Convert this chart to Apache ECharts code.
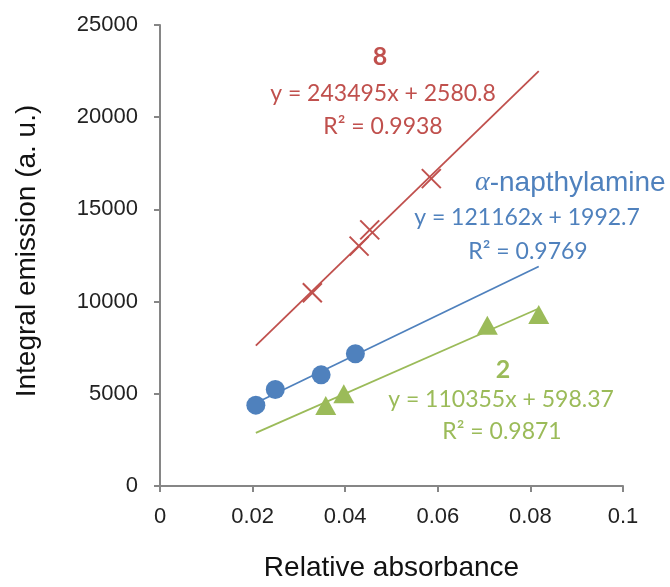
<!DOCTYPE html>
<html>
<head>
<meta charset="utf-8">
<script src="https://cdn.jsdelivr.net/npm/echarts@6/dist/echarts.min.js"></script>
<style>
  html, body { margin: 0; padding: 0; background: #fff; }
  #main { width: 670px; height: 587px; }
</style>
</head>
<body>
<div id="main"></div>
<script>
// points: [relative absorbance, integral emission]
var pts8 = [[0.0329, 10480], [0.0430, 13010], [0.0453, 13890], [0.0586, 16670]];
var ptsNaph = [[0.0207, 4385], [0.0249, 5233], [0.0348, 6028], [0.0422, 7174]];
var pts2 = [[0.0358, 4360], [0.0397, 5000], [0.0707, 8712], [0.0818, 9295]];

// trendline end points
var fit8 = [[0.0207, 7610], [0.0818, 22500]];
var fitNaph = [[0.0207, 4500], [0.0818, 11900]];
var fit2 = [[0.0207, 2880], [0.0818, 9625]];

var xTicks = [0, 0.02, 0.04, 0.06, 0.08, 0.1];
var yTicks = [0, 5000, 10000, 15000, 20000, 25000];

var red = '#C0504D', blue = '#4F81BD', green = '#9BBB59';
var axisGrey = '#868686';
var eqFont = 'Lato';

var myChart = echarts.init(document.getElementById('main'));

function eqText(x, y, txt, color, size, weight) {
    return {
        type: 'text', x: x, y: y, z: 10,
        style: {
            text: txt, fill: color, font: (weight || 'normal') + ' ' + size + 'px ' + eqFont,
            align: 'center', verticalAlign: 'middle'
        }
    };
}

option = {
    animation: false,
    backgroundColor: '#fff',
    grid: { left: 160, right: 47, top: 25, bottom: 90, containLabel: false },
    xAxis: {
        type: 'value',
        min: xTicks[0],
        max: xTicks[xTicks.length - 1],
        interval: 0.02,
        splitLine: { show: false },
        axisLine: { show: true, lineStyle: { color: axisGrey, width: 2 } },
        axisTick: { show: true, inside: false, length: 6, lineStyle: { color: axisGrey, width: 2 } },
        axisLabel: { color: '#222', fontSize: 22, fontFamily: 'Liberation Sans', margin: 20 },
        name: 'Relative absorbance',
        nameLocation: 'middle',
        nameGap: 68,
        nameTextStyle: { color: '#111', fontSize: 28, fontFamily: 'Liberation Sans' }
    },
    yAxis: {
        type: 'value',
        min: yTicks[0],
        max: yTicks[yTicks.length - 1],
        interval: 5000,
        splitLine: { show: false },
        axisLine: { show: true, lineStyle: { color: axisGrey, width: 2 } },
        axisTick: { show: true, inside: false, length: 6, lineStyle: { color: axisGrey, width: 2 } },
        axisLabel: {
            color: '#222', fontSize: 22, fontFamily: 'Liberation Sans', margin: 22,
            formatter: function (v) { return String(v); }
        }
    },
    graphic: [
        {
            type: 'text', x: 27, y: 251, rotation: Math.PI / 2, z: 10,
            style: {
                text: 'Integral emission (a. u.)', fill: '#111',
                font: '28px Liberation Sans', align: 'center', verticalAlign: 'middle'
            }
        },
        eqText(380, 57, '8', red, 25, 'bold'),
        eqText(383, 94, 'y = 243495x + 2580.8', red, 23),
        eqText(383, 127, 'R² = 0.9938', red, 23),
        {
            type: 'text', x: 475, y: 183, z: 10,
            style: {
                text: '{a|α}-napthylamine',
                fill: blue, font: '28px Liberation Sans',
                align: 'left', verticalAlign: 'middle',
                rich: { a: { fontFamily: 'Liberation Serif', fontStyle: 'italic', fontSize: 28, fill: blue } }
            }
        },
        eqText(527, 218, 'y = 121162x + 1992.7', blue, 23),
        eqText(528, 252, 'R² = 0.9769', blue, 23),
        eqText(503, 370, '2', green, 25, 'bold'),
        eqText(501, 400, 'y = 110355x + 598.37', green, 23),
        eqText(502, 432, 'R² = 0.9871', green, 23)
    ],
    series: [
        { name: 'fit 8', type: 'line', data: fit8, symbol: 'none', lineStyle: { color: red, width: 1.8 }, z: 2 },
        { name: 'fit naph', type: 'line', data: fitNaph, symbol: 'none', lineStyle: { color: blue, width: 1.8 }, z: 2 },
        { name: 'fit 2', type: 'line', data: fit2, symbol: 'none', lineStyle: { color: green, width: 1.8 }, z: 2 },
        {
            name: '8', type: 'scatter', data: pts8,
            symbol: 'path://M0,0L10,10M10,0L0,10', symbolSize: 19,
            itemStyle: { color: 'none', borderColor: red, borderWidth: 2, opacity: 1 }, z: 3
        },
        {
            name: 'naph', type: 'scatter', data: ptsNaph,
            symbol: 'circle', symbolSize: 19,
            itemStyle: { color: blue, opacity: 1 }, z: 3
        },
        {
            name: '2', type: 'scatter', data: pts2,
            symbol: 'triangle', symbolSize: [21, 19],
            itemStyle: { color: green, opacity: 1 }, z: 3
        }
    ]
};
myChart.setOption(option);
</script>
</body>
</html>
